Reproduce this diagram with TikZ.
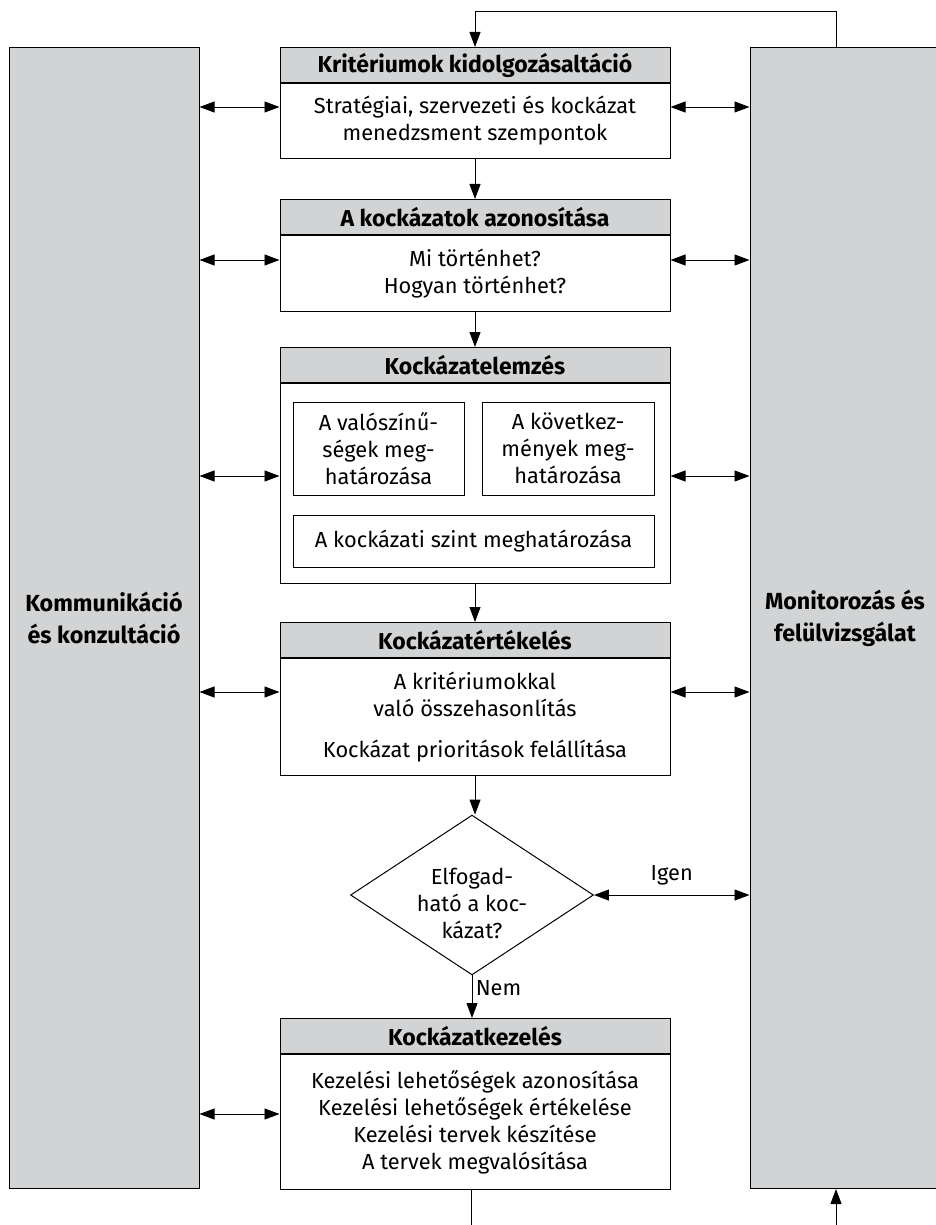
\documentclass[tikz,border=0pt]{standalone}
\usepackage{fontspec}
\setmainfont{Fira Sans}
\usetikzlibrary{arrows.meta,shapes.geometric}
\definecolor{szurke}{RGB}{209,211,212}
\newcommand\betu{\fontsize{21.8}{27}\selectfont}

\tikzset{
  fej/.style={draw, fill=szurke, line width=1pt, minimum width=390pt, minimum height=35pt, anchor=north, inner sep=0pt, font=\fontsize{23}{27}\selectfont\bfseries},
  torzs/.style={draw, fill=white, line width=1pt, minimum width=390pt, anchor=north, inner sep=0pt, align=center},
  belso/.style={draw, line width=1pt, inner sep=0pt, align=center},
  oldal/.style={draw, fill=szurke, line width=1pt, minimum width=190pt, minimum height=1141pt, anchor=north, align=center, font=\fontsize{23.3}{32}\selectfont\bfseries},
  dont/.style={draw, shape=diamond, aspect=1.52, inner sep=0pt, minimum width=236pt, minimum height=155pt, line width=1pt, align=center},
  nyil/.style={-{Triangle[length=15pt,width=11pt]}, line width=0.9pt},
  ketnyil/.style={{Triangle[length=15pt,width=11pt]}-{Triangle[length=15pt,width=11pt]}, line width=0.9pt}
}

\begin{document}
\begin{tikzpicture}[x=1pt,y=-1pt,font=\betu]
\useasboundingbox (0,0) rectangle (935,1225);
\coordinate (T) at (836,11);
\coordinate (B1) at (471,1240);
\coordinate (B2) at (836,1240);

\node[oldal] (kom) at (104,47) {Kommunikáció\\és konzultáció};
\node[oldal] (mon) at (845,47) {Monitorozás és\\felülvizsgálat};

\node[fej] (h1) at (475,47) {Kritériumok kidolgozásaltáció};
\node[torzs, minimum height=75pt] (b1) at (h1.south) {Stratégiai, szervezeti és kockázat\\menedzsment szempontok};

\node[fej] (h2) at (475,199) {A kockázatok azonosítása};
\node[torzs, minimum height=76pt] (b2) at (h2.south) {Mi történhet?\\Hogyan történhet?};

\node[fej] (h3) at (475,347) {Kockázatelemzés};
\node[torzs, minimum height=200pt] (b3) at (h3.south) {};
\node[belso, minimum width=171pt, minimum height=93pt] (v) at (378.5,448.5) {A valószínű-\\ségek meg-\\határozása};
\node[belso, minimum width=172pt, minimum height=93pt] (k) at (568,448.5) {A következ-\\mények meg-\\határozása};
\node[belso, minimum width=361pt, minimum height=52pt] (sz) at (473.5,541) {A kockázati szint meghatározása};

\node[fej] (h4) at (475,622) {Kockázatértékelés};
\node[torzs, minimum height=117pt] (b4) at (h4.south) {A kritériumokkal\\való összehasonlítás\\[14pt]Kockázat prioritások felállítása};

\node[dont] (D) at (472,895) {\rule{0pt}{33pt}Elfogad-\\ható a koc-\\kázat?};

\node[fej] (h5) at (475,1018) {Kockázatkezelés};
\node[torzs, minimum height=135pt] (b5) at (h5.south) {Kezelési lehetőségek azonosítása\\Kezelési lehetőségek értékelése\\Kezelési tervek készítése\\A tervek megvalósítása};

% folyamat
\draw[nyil] (mon.north -| T) -- (T) -| (h1.north);
\draw[nyil] (b1.south) -- (h2.north);
\draw[nyil] (b2.south) -- (h3.north);
\draw[nyil] (b3.south) -- (h4.north);
\draw[nyil] (b4.south) -- (b4.south |- D.north);
\draw[nyil] (D.south) -- node[right, pos=0.3] {Nem} (D.south |- h5.north);
\draw[ketnyil] (D.east) -- node[above=6pt] {Igen} (mon.west |- D.east);
\draw[line width=0.9pt] (b5.south -| B1) -- (B1);
\draw[nyil] (B2) -- (mon.south -| B2);

% kapcsolatok a két oldalsávval
\foreach \b/\y in {b1/107, b2/260, b3/476, b4/692}{
  \path (0,\y) coordinate (s);
  \draw[ketnyil] (kom.east |- s) -- (\b.west |- s);
  \draw[ketnyil] (\b.east |- s) -- (mon.west |- s);
}
\path (0,1114) coordinate (s5);
\draw[ketnyil] (kom.east |- s5) -- (b5.west |- s5);
\end{tikzpicture}
\end{document}
